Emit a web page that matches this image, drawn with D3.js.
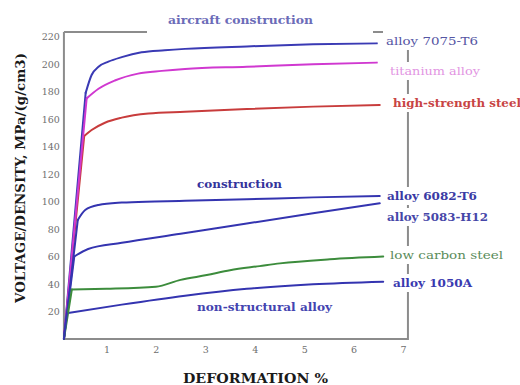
<!DOCTYPE html>
<html><head><meta charset="utf-8">
<script src="https://cdn.jsdelivr.net/npm/d3@7"></script>
<style>body{margin:0;background:#fff}svg{display:block}</style>
</head><body>
<svg id="c" width="520" height="385"></svg>
<script>
// ---- data ----
const xTicks = [1,2,3,4,5,6,7];
const yTicks = [20,40,60,80,100,120,140,160,180,200,220];
const alloy7075 = [[0.14,0],[0.58,179],[0.7,192],[0.84,198],[1.04,201.7],[1.31,205],[1.71,208.5],[2.18,210],[2.59,211],[3.84,212.8],[5.18,214.3],[6.47,215]];
const titanium = [[0.14,0],[0.6,175],[0.84,182],[1.17,188],[1.64,193],[2.12,195],[2.59,196.4],[3.84,198],[5.18,199.8],[6.47,201]];
const highStrength = [[0.14,0],[0.55,147.6],[0.7,152],[0.97,157.3],[1.31,161],[1.85,164],[2.59,165.3],[3.84,167.3],[5.18,169],[6.53,170.2]];
const alloy6082 = [[0.14,0],[0.42,86.5],[0.57,93.8],[0.84,97.5],[1.31,99.2],[1.98,100],[2.59,100.5],[3.84,101.6],[5.18,103],[6.53,104]];
const alloy5083 = [[0.14,0],[0.35,60],[0.63,65.5],[1.31,70],[2.5,76.5],[3.84,84],[5.18,91.4],[6.53,98.7]];
const lowCarbon = [[0.14,0],[0.3,36],[1.0,36.5],[2.0,38],[2.5,43],[3.03,46.5],[3.5,50],[4.1,53],[4.51,55],[5.52,58],[6.6,60]];
const alloy1050 = [[0.14,0],[0.2,18.7],[1.31,25],[2.59,31.5],[3.84,36.5],[5.18,39.8],[6.6,41.7]];
const seriesNames = ["high-strength steel","alloy 7075-T6","titanium alloy","alloy 6082-T6","alloy 5083-H12","low carbon steel","alloy 1050A"];
const seriesData = [highStrength, alloy7075, titanium, alloy6082, alloy5083, lowCarbon, alloy1050];
const seriesColors = ["#c83c3c","#3a3ab4","#d038d0","#3434b0","#3434b0","#3c8c3c","#3434b0"];
const groupLabels = ["aircraft construction","construction","non-structural alloy"];

// ---- layout ----
const svg = d3.select("#c");
const x = d3.scaleLinear().domain([0,7]).range([57,403]);
const y = d3.scaleLinear().domain([0,220]).range([339,36.5]);
const fLeft = x(0.14), fRight = x(7.1), fTop = 32, fBottom = y(0);
const serif = "'DejaVu Serif', 'Liberation Serif', serif";

// frame
const frame = svg.append("g").attr("stroke","#8c8c8c").attr("stroke-width",2).attr("fill","none");
frame.append("path").attr("d",`M${fLeft},${fTop}V${fBottom}H${fRight}V${fTop}H${fLeft}`);

// axes tick labels
const gy = svg.append("g").attr("transform",`translate(${fLeft},0)`)
  .call(d3.axisLeft(y).tickValues(yTicks).tickSize(0).tickPadding(4));
gy.select(".domain").remove();
gy.selectAll("text").attr("font-family",serif).attr("font-size",9.5).attr("fill","#6e6e6e");
const gx = svg.append("g").attr("transform",`translate(0,${fBottom})`)
  .call(d3.axisBottom(x).tickValues(xTicks).tickFormat(d3.format("d")).tickSize(0).tickPadding(7));
gx.select(".domain").remove();
gx.selectAll("text").attr("font-family",serif).attr("font-size",9.5).attr("fill","#6e6e6e");

// lines: straight elastic segment, then smooth plastic curve
const lineLin = d3.line().x(d=>x(d[0])).y(d=>y(d[1]));
const lineSmooth = d3.line().x(d=>x(d[0])).y(d=>y(d[1])).curve(d3.curveMonotoneX);
const g = svg.append("g").attr("fill","none").attr("stroke-width",2).attr("stroke-linejoin","round").attr("stroke-linecap","round");
seriesData.forEach((d,i)=>{
  g.append("path").attr("d", lineSmooth(d.slice(1))).attr("stroke",seriesColors[i]);
});
seriesData.forEach((d,i)=>{
  g.append("path").attr("d", lineLin(d.slice(0,2))).attr("stroke",seriesColors[i]);
});

// labels with white boxes
const labels = [
  {t:seriesNames[1], x:386, y:41, w:92, c:"#5656a4", b:"normal"},
  {t:seriesNames[2], x:390, y:71, w:90, c:"#e294e2", b:"normal"},
  {t:seriesNames[0], x:393, y:103, w:128, c:"#c84444", b:"bold"},
  {t:seriesNames[3], x:387, y:196, w:90, c:"#3a3aa4", b:"bold"},
  {t:seriesNames[4], x:387, y:217, w:101, c:"#4646a8", b:"bold"},
  {t:seriesNames[5], x:390, y:255, w:113, c:"#5a8c5a", b:"normal"},
  {t:seriesNames[6], x:393, y:283, w:79, c:"#3a3ab0", b:"bold"},
  {t:groupLabels[0], x:168, y:20, w:145, c:"#6c6cb8", b:"bold"},
  {t:groupLabels[1], x:197, y:184, w:85, c:"#34349c", b:"bold"},
  {t:groupLabels[2], x:197, y:307, w:135, c:"#4444b0", b:"bold"}
];
// white knockouts
svg.append("rect").attr("x",147).attr("y",5).attr("width",226).attr("height",32).attr("fill","#fff");
svg.append("g").selectAll("rect").data(labels.slice(0,7)).join("rect")
  .attr("x",d=>d.x-3).attr("y",(d,i)=>i===0? 29 : d.y-9).attr("width",d=>d.w+6)
  .attr("height",(d,i)=>i===0? 21 : 18).attr("fill","#fff");
svg.append("g").selectAll("text").data(labels).join("text")
  .attr("x",d=>d.x).attr("y",d=>d.y).attr("dy","0.35em")
  .attr("font-family",serif).attr("font-size",11).attr("font-weight",d=>d.b)
  .attr("fill",d=>d.c).attr("textLength",d=>d.w).attr("lengthAdjust","spacingAndGlyphs")
  .text(d=>d.t);

// axis titles
svg.append("text").attr("transform","translate(21,178) rotate(-90)")
  .attr("text-anchor","middle").attr("dy","0.35em")
  .attr("font-family",serif).attr("font-size",12).attr("font-weight","bold").attr("fill","#1a1a1a")
  .attr("textLength",250).attr("lengthAdjust","spacingAndGlyphs")
  .text("VOLTAGE/DENSITY, MPa/(g/cm3)");
svg.append("text").attr("x",183).attr("y",378).attr("dy","0.35em")
  .attr("font-family",serif).attr("font-size",13).attr("font-weight","bold").attr("fill","#1a1a1a")
  .attr("textLength",145).attr("lengthAdjust","spacingAndGlyphs")
  .text("DEFORMATION %");
</script>
</body></html>
